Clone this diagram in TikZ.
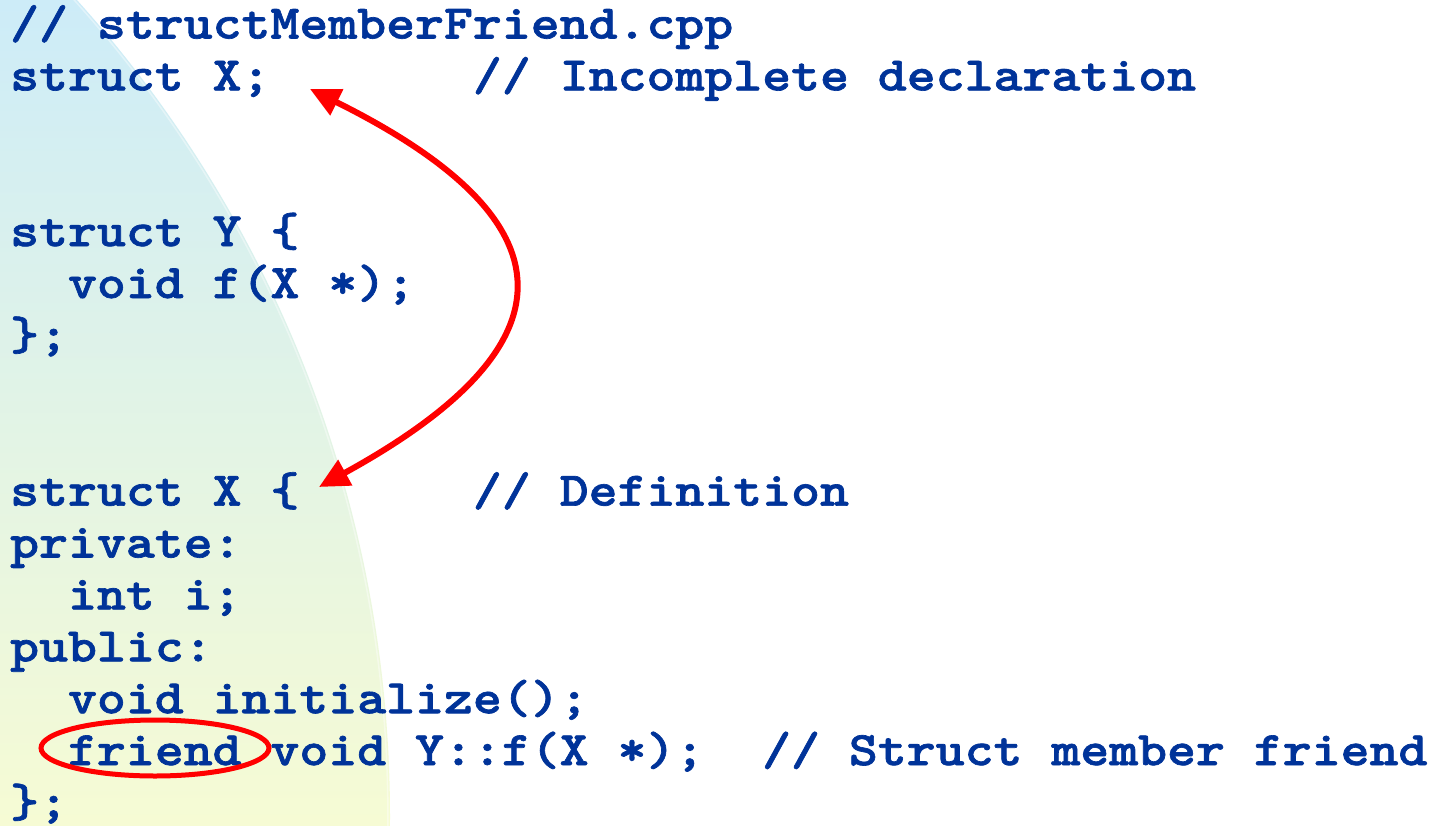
\documentclass[tikz,border=0pt]{standalone}
\usepackage{fontspec}
\newfontfamily\codefont{lmmonolt10-bold.otf}[FakeStretch=1.143,FakeBold=1.4]
\usetikzlibrary{arrows.meta}
\definecolor{codeblue}{RGB}{0,51,153}
\definecolor{paneltop}{RGB}{205,236,248}
\definecolor{panelbot}{RGB}{246,251,212}
\begin{document}
\begin{tikzpicture}[x=1pt,y=-1pt,
  code/.style={font=\codefont\fontsize{48.2pt}{52pt}\selectfont,
               text=codeblue, inner sep=0pt, anchor=base west},
  link/.style={draw=red, line width=6pt,
               {Triangle[length=30pt,width=28pt]}-{Triangle[length=30pt,width=28pt]}},
  ring/.style={draw=red, line width=5pt}]
\useasboundingbox (0,0) rectangle (1435,825);
\fill[white] (0,0) rectangle (1435,825);
% tinted side panel bounded by a large arc
\begin{scope}
  \clip (-831.6,816.6) circle [radius=1221.6pt];
  \shade[top color=paneltop, bottom color=panelbot] (0,0) rectangle (1435,825);
\end{scope}
\draw[white, opacity=0.4, line width=1.5pt] (-831.6,816.6) circle [radius=1219.5pt];
% source listing
\node[code] (l0)  at (10,38.5)  {// structMemberFriend.cpp};
\node[code] (l1)  at (10,90.4)  {struct X;~~~~~~~// Incomplete declaration};
\node[code] (l4)  at (10,246.1) {struct Y \{};
\node[code] (l5)  at (10,298.0) {~~void f(X *);};
\node[code] (l6)  at (10,349.9) {\};};
\node[code] (l9)  at (10,505.6) {struct X \{~~~~~~// Definition};
\node[code] (l10) at (10,557.5) {private:};
\node[code] (l11) at (10,609.4) {~~int i;};
\node[code] (l12) at (10,661.3) {public:};
\node[code] (l13) at (10,713.2) {~~void initialize();};
\node[code] (l14) at (10,765.1) {~~friend void Y::f(X *);~~// Struct member friend};
\node[code] (l15) at (10,817.0) {\};};
% declaration <-> definition link
\coordinate (declTip) at (310,89);
\coordinate (defTip) at (319,487);
\draw[link] (declTip) .. controls (578,222) and (576,346) .. (defTip);
% highlight on the friend keyword
\draw[ring] (155,748) ellipse [x radius=114pt, y radius=28pt];
\end{tikzpicture}
\end{document}
